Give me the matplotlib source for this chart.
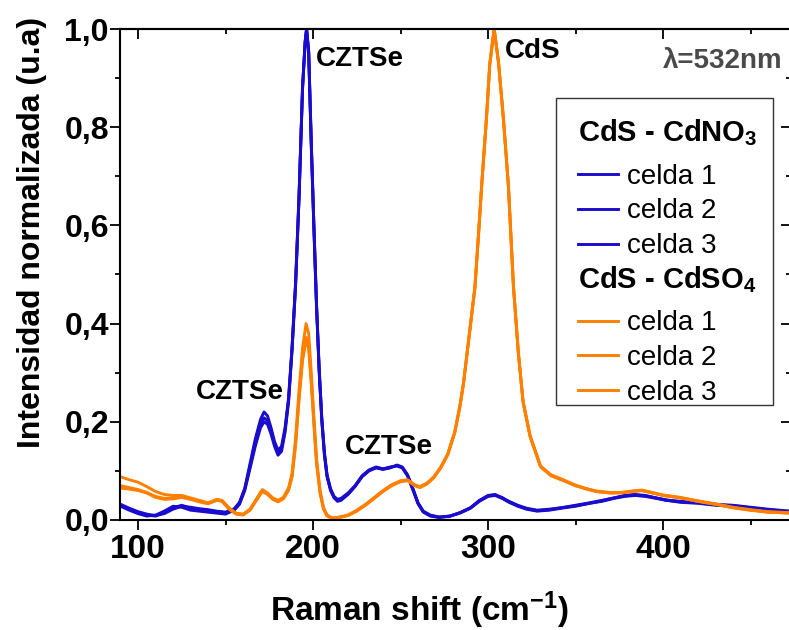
import matplotlib
matplotlib.use('Agg')
import matplotlib.pyplot as plt
from matplotlib.ticker import MultipleLocator, FixedLocator, FixedFormatter
from matplotlib.lines import Line2D
from matplotlib.legend_handler import HandlerBase
from matplotlib.text import Text
from matplotlib.patches import Rectangle

plt.rcParams['font.family'] = ['Liberation Sans', 'DejaVu Sans']
plt.rcParams['mathtext.fontset'] = 'custom'
plt.rcParams['mathtext.rm'] = 'Liberation Sans'
plt.rcParams['mathtext.bf'] = 'Liberation Sans:bold'
plt.rcParams['mathtext.it'] = 'Liberation Sans:italic'

# ---------------- data ----------------
blue_x = [90, 95, 100, 105, 110, 115, 120, 125, 130, 135,
          140, 145, 150, 155, 158, 161, 164, 167, 170, 172,
          174, 176, 178, 180, 182, 184, 186, 188, 190, 192,
          194, 195.5, 196.3, 197.5, 199, 200.5, 202, 203.5, 205, 206.5,
          208, 210, 212, 214, 216, 220, 224, 228, 232, 236,
          240, 244, 248, 251, 254, 257, 260, 263, 267, 272,
          278, 284, 290, 295, 300, 304, 308, 312, 317, 322,
          328, 335, 342, 350, 358, 365, 372, 378, 384, 390,
          396, 402, 410, 420, 430, 440, 450, 460, 473]

blue_celda1 = [0.030, 0.022, 0.015, 0.010, 0.008, 0.015, 0.025, 0.030, 0.024, 0.022,
               0.020, 0.017, 0.015, 0.022, 0.035, 0.065, 0.115, 0.165, 0.205, 0.220,
               0.212, 0.188, 0.160, 0.142, 0.150, 0.188, 0.248, 0.352, 0.482, 0.662,
               0.882, 0.975, 1.000, 0.952, 0.762, 0.592, 0.432, 0.302, 0.202, 0.132,
               0.088, 0.060, 0.045, 0.038, 0.040, 0.052, 0.068, 0.088, 0.100, 0.106,
               0.103, 0.106, 0.112, 0.108, 0.092, 0.065, 0.035, 0.018, 0.010, 0.006,
               0.008, 0.015, 0.025, 0.040, 0.050, 0.052, 0.045, 0.038, 0.030, 0.024,
               0.020, 0.022, 0.025, 0.030, 0.035, 0.040, 0.045, 0.050, 0.052, 0.050,
               0.045, 0.040, 0.038, 0.036, 0.032, 0.030, 0.026, 0.022, 0.018]

blue_celda2 = [0.028, 0.020, 0.013, 0.008, 0.010, 0.018, 0.028, 0.026, 0.020, 0.018,
               0.016, 0.014, 0.012, 0.020, 0.032, 0.060, 0.105, 0.150, 0.188, 0.200,
               0.195, 0.175, 0.150, 0.132, 0.140, 0.178, 0.240, 0.345, 0.475, 0.655,
               0.878, 0.972, 1.000, 0.955, 0.770, 0.600, 0.440, 0.310, 0.208, 0.138,
               0.092, 0.064, 0.048, 0.042, 0.044, 0.055, 0.070, 0.090, 0.102, 0.108,
               0.104, 0.108, 0.110, 0.106, 0.090, 0.062, 0.033, 0.016, 0.008, 0.005,
               0.008, 0.014, 0.024, 0.038, 0.048, 0.050, 0.044, 0.036, 0.028, 0.022,
               0.018, 0.020, 0.024, 0.028, 0.034, 0.038, 0.044, 0.048, 0.050, 0.048,
               0.044, 0.040, 0.036, 0.034, 0.030, 0.028, 0.024, 0.020, 0.016]

blue_celda3 = [0.032, 0.024, 0.017, 0.012, 0.009, 0.013, 0.022, 0.028, 0.026, 0.023,
               0.021, 0.018, 0.016, 0.023, 0.036, 0.063, 0.110, 0.158, 0.196, 0.208,
               0.202, 0.180, 0.155, 0.138, 0.145, 0.183, 0.244, 0.348, 0.478, 0.658,
               0.880, 0.974, 1.000, 0.953, 0.765, 0.596, 0.436, 0.306, 0.205, 0.135,
               0.090, 0.062, 0.047, 0.040, 0.042, 0.053, 0.069, 0.089, 0.101, 0.107,
               0.104, 0.107, 0.111, 0.107, 0.091, 0.063, 0.034, 0.017, 0.009, 0.006,
               0.007, 0.015, 0.025, 0.039, 0.049, 0.051, 0.046, 0.037, 0.029, 0.023,
               0.019, 0.021, 0.025, 0.029, 0.034, 0.039, 0.045, 0.049, 0.051, 0.049,
               0.045, 0.041, 0.037, 0.035, 0.031, 0.029, 0.025, 0.021, 0.017]

orange_x = [90, 95, 100, 105, 110, 115, 120, 125, 130, 135,
            140, 145, 148, 152, 156, 160, 164, 168, 171, 174,
            177, 180, 183, 186, 188, 190, 192, 194, 196, 197.5,
            199, 200.5, 202, 204, 206, 208, 211, 215, 220, 225,
            230, 235, 240, 245, 250, 254, 258, 261, 265, 269,
            273, 277, 281, 284, 286, 288, 290, 292.5, 294.5, 296.5,
            299, 301, 303.5, 306, 308.8, 311.6, 314.5, 317.3, 320, 324,
            330, 336, 343, 350, 356, 362, 370, 376, 382, 388,
            394, 400, 410, 420, 430, 440, 450, 460, 473]

orange_celda1 = [0.088, 0.082, 0.077, 0.068, 0.058, 0.052, 0.050, 0.050, 0.045, 0.040,
                 0.035, 0.042, 0.040, 0.025, 0.014, 0.012, 0.022, 0.045, 0.062, 0.055,
                 0.045, 0.040, 0.046, 0.065, 0.095, 0.165, 0.265, 0.350, 0.400, 0.380,
                 0.300, 0.210, 0.125, 0.060, 0.025, 0.010, 0.004, 0.006, 0.010, 0.020,
                 0.032, 0.046, 0.060, 0.072, 0.080, 0.082, 0.072, 0.068, 0.075, 0.088,
                 0.108, 0.135, 0.180, 0.235, 0.280, 0.340, 0.400, 0.475, 0.580, 0.690,
                 0.815, 0.930, 1.000, 0.930, 0.815, 0.680, 0.475, 0.340, 0.240, 0.170,
                 0.108, 0.090, 0.080, 0.070, 0.063, 0.058, 0.055, 0.055, 0.058, 0.060,
                 0.055, 0.050, 0.045, 0.038, 0.032, 0.025, 0.020, 0.016, 0.014]

orange_celda2 = [0.065, 0.063, 0.060, 0.055, 0.046, 0.042, 0.043, 0.046, 0.042, 0.037,
                 0.033, 0.040, 0.038, 0.022, 0.012, 0.010, 0.020, 0.042, 0.058, 0.052,
                 0.042, 0.037, 0.043, 0.060, 0.088, 0.152, 0.245, 0.325, 0.365, 0.350,
                 0.278, 0.195, 0.115, 0.055, 0.022, 0.008, 0.003, 0.005, 0.009, 0.018,
                 0.030, 0.044, 0.058, 0.070, 0.078, 0.080, 0.070, 0.066, 0.073, 0.086,
                 0.106, 0.133, 0.178, 0.232, 0.278, 0.338, 0.398, 0.472, 0.578, 0.688,
                 0.812, 0.928, 1.000, 0.932, 0.818, 0.684, 0.478, 0.342, 0.242, 0.172,
                 0.110, 0.092, 0.082, 0.071, 0.064, 0.059, 0.056, 0.056, 0.059, 0.061,
                 0.056, 0.051, 0.046, 0.039, 0.033, 0.026, 0.021, 0.017, 0.015]

orange_celda3 = [0.070, 0.066, 0.062, 0.056, 0.048, 0.044, 0.045, 0.047, 0.043, 0.038,
                 0.034, 0.041, 0.039, 0.023, 0.013, 0.011, 0.021, 0.043, 0.060, 0.053,
                 0.043, 0.038, 0.044, 0.062, 0.090, 0.155, 0.250, 0.330, 0.372, 0.355,
                 0.282, 0.198, 0.118, 0.057, 0.023, 0.009, 0.004, 0.005, 0.010, 0.019,
                 0.031, 0.045, 0.059, 0.071, 0.079, 0.081, 0.071, 0.067, 0.074, 0.087,
                 0.107, 0.134, 0.179, 0.233, 0.279, 0.339, 0.399, 0.474, 0.579, 0.689,
                 0.813, 0.929, 1.000, 0.931, 0.816, 0.682, 0.476, 0.341, 0.241, 0.171,
                 0.109, 0.091, 0.081, 0.070, 0.064, 0.058, 0.055, 0.056, 0.058, 0.060,
                 0.055, 0.050, 0.045, 0.038, 0.032, 0.025, 0.020, 0.016, 0.014]

series_labels = ['celda 1', 'celda 2', 'celda 3']
group_titles = [r'CdS - CdNO$_{\mathbf{3}}$', r'CdS - CdSO$_{\mathbf{4}}$']
x_ticks = [100, 200, 300, 400]
x_ticklabels = ['100', '200', '300', '400']
y_ticks = [0.0, 0.2, 0.4, 0.6, 0.8, 1.0]
y_ticklabels = ['0,0', '0,2', '0,4', '0,6', '0,8', '1,0']
peak_labels = ['CZTSe', 'CZTSe', 'CZTSe', 'CdS']

BLUE = '#1a0ccc'
ORANGE = '#ff8000'

# ---------------- figure ----------------
W, H = 789, 630
fig = plt.figure(figsize=(W / 100, H / 100), dpi=100)
ax = fig.add_axes([120 / W, (H - 520) / H, (791 - 120) / W, 491 / H])

lw = 2.1
blue_lines = []
for yv, lab in zip([blue_celda1, blue_celda2, blue_celda3], series_labels):
    l, = ax.plot(blue_x, yv, color=BLUE, lw=lw, label=lab, solid_joinstyle='round')
    blue_lines.append(l)
orange_lines = []
for yv, lab in zip([orange_celda1, orange_celda2, orange_celda3], series_labels):
    l, = ax.plot(orange_x, yv, color=ORANGE, lw=lw, label=lab, solid_joinstyle='round')
    orange_lines.append(l)

ax.set_xlim(89.7, 473.1)
ax.set_ylim(0, 1.0)

ax.xaxis.set_major_locator(FixedLocator(x_ticks))
ax.xaxis.set_major_formatter(FixedFormatter(x_ticklabels))
ax.xaxis.set_minor_locator(MultipleLocator(50))
ax.yaxis.set_major_locator(FixedLocator(y_ticks))
ax.yaxis.set_major_formatter(FixedFormatter(y_ticklabels))
ax.yaxis.set_minor_locator(MultipleLocator(0.1))

ax.tick_params(which='major', direction='out', length=7, width=1.3, pad=2)
ax.tick_params(which='minor', direction='out', length=3.5, width=1.3)
ax.tick_params(axis='x', which='major', labelsize=24, pad=3)
ax.tick_params(axis='y', which='major', labelsize=23, pad=1)
for t in ax.get_xticklabels() + ax.get_yticklabels():
    t.set_fontweight('bold')
for s in ax.spines.values():
    s.set_linewidth(1.5)

secx = ax.secondary_xaxis('top')
secx.xaxis.set_major_locator(FixedLocator(x_ticks))
secx.xaxis.set_minor_locator(MultipleLocator(50))
secx.tick_params(which='major', direction='in', length=7, width=1.3, labeltop=False)
secx.tick_params(which='minor', direction='in', length=3.5, width=1.3)
secx.spines['top'].set_linewidth(1.5)

secy = ax.secondary_yaxis('right')
secy.yaxis.set_major_locator(FixedLocator(y_ticks))
secy.yaxis.set_minor_locator(MultipleLocator(0.1))
secy.tick_params(which='major', direction='in', length=7, width=1.3, labelright=False)
secy.tick_params(which='minor', direction='in', length=3.5, width=1.3)
secy.spines['right'].set_linewidth(1.5)

ax.set_xlabel(r'Raman shift (cm$^{\mathbf{-1}}$)', fontsize=24, fontweight='bold')
ax.xaxis.set_label_coords(0.4456, -0.142)
ax.set_ylabel('Intensidad normalizada (u.a)', fontsize=23, fontweight='bold')
ax.yaxis.set_label_coords(-0.109, 0.585)

# peak annotations
ax.text(201.7, 0.939, peak_labels[0], fontsize=20, fontweight='bold', ha='left', va='center')
ax.text(133.1, 0.261, peak_labels[1], fontsize=20, fontweight='bold', ha='left', va='center')
ax.text(218.3, 0.149, peak_labels[2], fontsize=20, fontweight='bold', ha='left', va='center')
ax.text(309.7, 0.955, peak_labels[3], fontsize=20, fontweight='bold', ha='left', va='center')
ax.text(468, 0.935, '\u03bb=532nm', fontsize=20, fontweight='bold', color='#4a4a4a',
        ha='right', va='center')


# legend: group headers drawn inside the handle box of an empty entry
class HeaderHandler(HandlerBase):
    def __init__(self, text, extra, fs):
        super().__init__()
        self.text = text
        self.extra = extra
        self.fs = fs

    def legend_artist(self, legend, orig_handle, fontsize, handlebox):
        handlebox.ydescent += self.extra
        handlebox.height += self.extra
        t = Text(0, 0, self.text, fontsize=self.fs, fontweight='bold',
                 va='baseline', ha='left')
        handlebox.add_artist(t)
        return t


fs = 20
hl, htp = 1.44, 0.32
hdr1 = Line2D([], [], color='none')
hdr2 = Line2D([], [], color='none')
handles = [hdr1] + blue_lines + [hdr2] + orange_lines
labels = [''] + series_labels + [''] + series_labels

# legend frame
frame = Rectangle((556 / W, 1 - 405 / H), (773 - 556) / W, (405 - 98) / H,
                  transform=fig.transFigure, facecolor='white', edgecolor='#333333',
                  lw=1.0, zorder=4.5, clip_on=False)
ax.add_artist(frame)

leg = ax.legend(handles, labels, loc='upper left',
                bbox_to_anchor=(578 / W, 1 - 121.5 / H), bbox_transform=fig.transFigure,
                fontsize=fs, frameon=False, handlelength=hl, handletextpad=htp,
                borderpad=0, labelspacing=0.32, borderaxespad=0,
                handler_map={hdr1: HeaderHandler(group_titles[0], 9.5, 21),
                             hdr2: HeaderHandler(group_titles[1], 9.5, 21)})
leg.set_zorder(5)

fig.savefig('out.png', dpi=100)
